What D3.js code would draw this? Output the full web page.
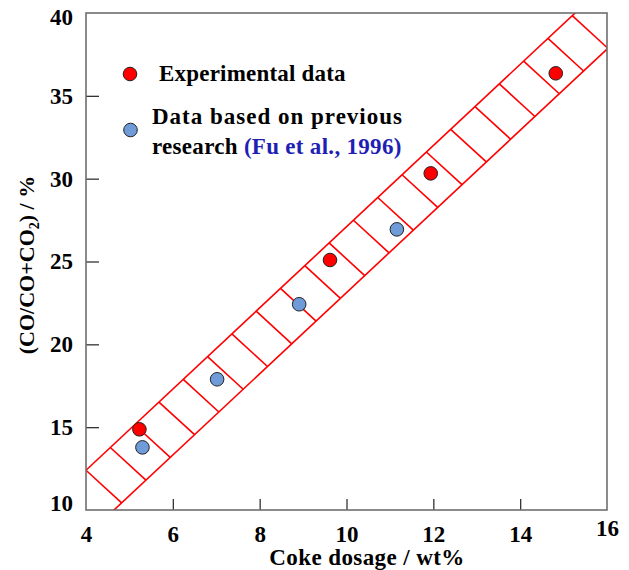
<!DOCTYPE html>
<html>
<head>
<meta charset="utf-8">
<script src="https://cdn.jsdelivr.net/npm/d3@7"></script>
<style>
  body { margin: 0; background: #fff; }
  svg text { font-family: "Liberation Serif", "Times New Roman", serif; font-weight: bold; fill: #000; }
  .frame { fill: none; stroke: #6e6e6e; stroke-width: 1.6; }
  .tick line { stroke: #333; stroke-width: 1.3; }
  .tick text { font-size: 23px; }
  .band { stroke: #ff0000; stroke-width: 1.6; fill: none; }
  .dot { stroke: #222; stroke-width: 1; }
</style>
</head>
<body>
<svg id="chart" width="629" height="570"></svg>
<script>
// ---------- DATA ----------
var xTicks = [4, 6, 8, 10, 12, 14, 16];
var yTicks = [10, 15, 20, 25, 30, 35, 40];

// experimental data (red)
var expX = [5.23, 9.62, 11.94, 14.82];
var expY = [14.87, 25.09, 30.32, 36.36];

// previous research, Fu et al. 1996 (blue)
var prevX = [5.30, 7.02, 8.91, 11.16];
var prevY = [13.78, 17.89, 22.42, 26.94];

// red band: upper / lower edges y = b + m*(x-4), with cross bars
var bandSlope = 2.45;
var bandUpperAt4 = 12.4;
var bandLowerAt4 = 8.42;
var barStartX = [4, 4.56, 5.12, 5.68, 6.24, 6.8, 7.36, 7.92, 8.48, 9.04, 9.6,
                 10.16, 10.72, 11.28, 11.84, 12.4, 12.96, 13.52, 14.08, 14.64, 15.2];
var barShiftX = 0.82;   // lower end of bar sits this far right on the lower edge

// ---------- SETUP ----------
var margin = {top: 13, left: 86},
    width = 607 - 86,
    height = 510 - 13;

var svg = d3.select("#chart").append("g")
    .attr("transform", "translate(" + margin.left + "," + margin.top + ")");

var x = d3.scaleLinear().domain([4, 16]).range([0, width]);
var y = d3.scaleLinear().domain([10, 40]).range([height, 0]);

function upper(v) { return bandUpperAt4 + bandSlope * (v - 4); }
function lower(v) { return bandLowerAt4 + bandSlope * (v - 4); }

svg.append("clipPath").attr("id", "plotclip")
  .append("rect").attr("width", width).attr("height", height);

// ---------- BAND ----------
var band = svg.append("g").attr("clip-path", "url(#plotclip)");

band.append("line").attr("class", "band")
  .attr("x1", x(4)).attr("y1", y(upper(4)))
  .attr("x2", x(16)).attr("y2", y(upper(16)));
band.append("line").attr("class", "band")
  .attr("x1", x(4)).attr("y1", y(lower(4)))
  .attr("x2", x(16.5)).attr("y2", y(lower(16.5)));

band.selectAll(".bar").data(barStartX).enter()
  .append("line").attr("class", "band")
  .attr("x1", function(d) { return x(d); })
  .attr("y1", function(d) { return y(upper(d)); })
  .attr("x2", function(d) { return x(d + barShiftX); })
  .attr("y2", function(d) { return y(lower(d + barShiftX)); });

// ---------- AXES ----------
var xAxis = svg.append("g")
  .attr("transform", "translate(0," + height + ")")
  .call(d3.axisBottom(x).tickValues(xTicks).tickSizeInner(-11).tickSizeOuter(0).tickPadding(16));
xAxis.select(".domain").remove();
xAxis.selectAll(".tick").filter(function(d) { return d == 4 || d == 16; }).select("line").remove();
xAxis.selectAll(".tick").filter(function(d) { return d == 16; }).select("text").attr("dy", "0.45em");

var yAxis = svg.append("g")
  .call(d3.axisLeft(y).tickValues(yTicks).tickSizeInner(-13).tickSizeOuter(0).tickPadding(13));
yAxis.select(".domain").remove();
yAxis.selectAll(".tick").filter(function(d) { return d == 10 || d == 40; }).select("line").remove();
yAxis.selectAll(".tick").filter(function(d) { return d == 10; }).select("text").attr("dy", "0.0em");
yAxis.selectAll(".tick").filter(function(d) { return d == 40; }).select("text").attr("dy", "0.5em");

svg.append("rect").attr("class", "frame")
  .attr("width", width).attr("height", height);

// axis titles
svg.append("text")
  .attr("x", 281)
  .attr("y", height + 55)
  .attr("text-anchor", "middle")
  .style("font-size", "23px")
  .style("letter-spacing", "0.4px")
  .text("Coke dosage / wt%");

var yt = svg.append("text")
  .attr("transform", "translate(" + (-52) + "," + 252 + ") rotate(-90)")
  .attr("text-anchor", "middle")
  .style("font-size", "22px");
yt.append("tspan").text("(CO/CO+CO");
yt.append("tspan").attr("dy", 5).style("font-size", "14px").text("2");
yt.append("tspan").attr("dy", -5).text(") / %");

// ---------- POINTS ----------
var pts = svg.append("g");
pts.selectAll(".exp").data(expX).enter()
  .append("circle").attr("class", "dot")
  .attr("cx", function(d) { return x(d); })
  .attr("cy", function(d, i) { return y(expY[i]); })
  .attr("r", 6.8).style("fill", "#ff0000");
pts.selectAll(".prev").data(prevX).enter()
  .append("circle").attr("class", "dot")
  .attr("cx", function(d) { return x(d); })
  .attr("cy", function(d, i) { return y(prevY[i]); })
  .attr("r", 6.8).style("fill", "#6f9bd9");

// ---------- LEGEND ----------
var leg = svg.append("g");
leg.append("circle").attr("class", "dot")
  .attr("cx", 44).attr("cy", 61).attr("r", 6.8).style("fill", "#ff0000");
leg.append("text").attr("x", 73).attr("y", 67.5)
  .style("font-size", "23px").style("letter-spacing", "0.2px").text("Experimental data");

leg.append("circle").attr("class", "dot")
  .attr("cx", 44.5).attr("cy", 117).attr("r", 6.8).style("fill", "#6f9bd9");
leg.append("text").attr("x", 66).attr("y", 111)
  .style("font-size", "23px").style("letter-spacing", "1px")
  .text("Data based on previous");
var l2 = leg.append("text").attr("x", 66).attr("y", 141)
  .style("font-size", "23px").style("letter-spacing", "0.3px");
l2.append("tspan").text("research ");
l2.append("tspan").style("fill", "#1f1fb4").text("(Fu et al., 1996)");
</script>
</body>
</html>
